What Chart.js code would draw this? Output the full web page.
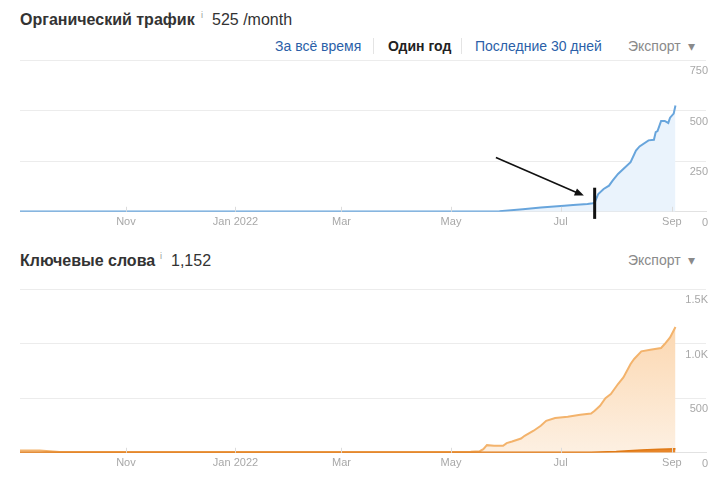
<!DOCTYPE html>
<html><head><meta charset="utf-8">
<script src="https://cdn.jsdelivr.net/npm/chart.js@4.4.0/dist/chart.umd.min.js"></script>
<style>
body{margin:0;width:720px;height:480px;background:#fff;font-family:"Liberation Sans",Arial,sans-serif;position:relative;overflow:hidden}
.abs{position:absolute;white-space:nowrap;line-height:1}
.title{font-weight:bold;font-size:16px;color:#333}
.info{font-size:9px;color:#999}
.val{font-size:16px;color:#333}
.btn{font-size:14px;color:#2b5fa8}
.btn.on{color:#222;font-weight:bold}
.exp{font-size:14px;color:#8a8a8a}
.sep{position:absolute;width:1px;background:#e4e4e4}
canvas{position:absolute;left:0}
</style></head>
<body>
<div class="abs title" style="left:20px;top:12px">Органический трафик</div>
<div class="abs info" style="left:201px;top:11px">i</div>
<div class="abs val" style="left:212px;top:12px">525 /month</div>
<div class="abs btn" style="left:275px;top:39px">За всё время</div>
<div class="sep" style="left:373px;top:38px;height:16px"></div>
<div class="abs btn on" style="left:388px;top:39px">Один год</div>
<div class="sep" style="left:461px;top:38px;height:16px"></div>
<div class="abs btn" style="left:475px;top:39px">Последние 30 дней</div>
<div class="abs exp" style="left:628px;top:39px">Экспорт&nbsp;&nbsp;▾</div>

<div class="abs title" style="left:20px;top:253px">Ключевые слова</div>
<div class="abs info" style="left:160px;top:252px">i</div>
<div class="abs val" style="left:171px;top:253px">1,152</div>
<div class="abs exp" style="left:628px;top:253px">Экспорт&nbsp;&nbsp;▾</div>

<canvas id="c1" style="top:50px"></canvas>
<canvas id="c2" style="top:279px"></canvas>
<script>
// ---------- data ----------
const START_DATE = '2021-09-03';
const AXIS_END_DATE = '2022-09-20';
const xTickDates = ['2021-11-01','2022-01-01','2022-03-01','2022-05-01','2022-07-01','2022-09-01'];
const xTickLabels = ['Nov','Jan 2022','Mar','May','Jul','Sep'];

const trafficDates = ['2021-09-03','2022-05-23','2022-05-28','2022-06-10','2022-06-20','2022-07-03','2022-07-08','2022-07-16','2022-07-19','2022-07-20','2022-07-22','2022-07-25','2022-07-28','2022-07-30','2022-08-02','2022-08-06','2022-08-09','2022-08-12','2022-08-14','2022-08-19','2022-08-22','2022-08-23','2022-08-24','2022-08-26','2022-08-28','2022-08-30','2022-08-31','2022-09-02','2022-09-03'];
const trafficValues = [1,2,3,13,21,30,33,38,42,45,88,113,129,154,187,220,245,303,323,353,356,394,399,449,449,439,465,485,525];
const trafficTicks = [0,250,500,750];

const kwDates = ['2021-09-03','2021-09-14','2021-09-25','2022-05-12','2022-05-17','2022-05-19','2022-05-21','2022-05-25','2022-05-30','2022-06-01','2022-06-04','2022-06-09','2022-06-11','2022-06-16','2022-06-20','2022-06-23','2022-06-28','2022-07-05','2022-07-12','2022-07-18','2022-07-20','2022-07-23','2022-07-26','2022-07-29','2022-08-02','2022-08-05','2022-08-09','2022-08-11','2022-08-15','2022-08-20','2022-08-26','2022-08-28','2022-08-31','2022-09-03'];
const kwValues = [22,20,8,10,15,34,70,64,64,89,104,131,156,202,247,293,318,330,348,360,385,431,501,538,630,690,813,859,929,944,960,996,1057,1152];
const kwTopDates = ['2021-09-03','2022-07-18','2022-08-01','2022-08-15','2022-08-25','2022-09-03'];
const kwTopValues = [4,5,12,25,33,38];
const kwTicks = [0,500,1000,1500];
const kwTickLabels = ['0','500','1.0K','1.5K'];

// annotation drawn on the screenshot (date, value)
const arrowFrom = ['2022-05-26', 268];
const arrowTo = ['2022-07-14', 80];
const markerDate = '2022-07-20';
const markerRange = [119, -35];

// ---------- helpers ----------
const day = d => (Date.parse(d) - Date.parse(START_DATE)) / 86400000;
const pts = (ds, vs) => ds.map((d, i) => ({x: day(d), y: vs[i]}));

function makeCanvas(id, h) {
  const c = document.getElementById(id);
  c.width = 720; c.height = h;
  c.style.width = '720px'; c.style.height = h + 'px';
  return c;
}

const tickFont = {family: '"Liberation Sans", Arial, sans-serif', size: 11};

function xScale() {
  return {
    type: 'linear', min: 0, max: day(AXIS_END_DATE),
    afterBuildTicks: s => { s.ticks = xTickDates.map(d => ({value: day(d)})); },
    ticks: {callback: (v, i) => xTickLabels[i], autoSkip: false, maxRotation: 0, color: '#a8a8a8', font: tickFont, padding: 4},
    grid: {display: false, drawTicks: false},
    border: {display: true, color: '#e2e2e2'}
  };
}
function yScale(max, ticks, labels) {
  return {
    position: 'right', min: 0, max: max,
    afterBuildTicks: s => { s.ticks = ticks.map(v => ({value: v})); },
    ticks: {mirror: true, labelOffset: 11, padding: 2, color: '#a8a8a8', font: tickFont,
      callback: (v, i) => labels ? labels[i] : String(v)},
    grid: {color: '#ececec', drawTicks: false},
    border: {display: false}
  };
}
const monthTicks = {
  id: 'monthTicks',
  afterDatasetsDraw(chart) {
    const ctx = chart.ctx, s = chart.scales.x, b = chart.chartArea.bottom;
    ctx.save(); ctx.strokeStyle = '#dcdcdc'; ctx.lineWidth = 1;
    s.ticks.forEach(t => {
      const x = Math.round(s.getPixelForValue(t.value)) + 0.5;
      ctx.beginPath(); ctx.moveTo(x, b - 5); ctx.lineTo(x, b); ctx.stroke();
    });
    ctx.restore();
  }
};
const annotation = {
  id: 'annotation',
  afterDraw(chart) {
    const ctx = chart.ctx, sx = chart.scales.x, sy = chart.scales.y;
    const x1 = sx.getPixelForValue(day(arrowFrom[0])), y1 = sy.getPixelForValue(arrowFrom[1]);
    const x2 = sx.getPixelForValue(day(arrowTo[0])), y2 = sy.getPixelForValue(arrowTo[1]);
    ctx.save();
    ctx.strokeStyle = '#111'; ctx.fillStyle = '#111'; ctx.lineWidth = 1.6;
    const ang = Math.atan2(y2 - y1, x2 - x1);
    const hx = x2 - 8 * Math.cos(ang), hy = y2 - 8 * Math.sin(ang);
    ctx.beginPath(); ctx.moveTo(x1, y1); ctx.lineTo(hx, hy); ctx.stroke();
    ctx.beginPath(); ctx.moveTo(x2, y2);
    ctx.lineTo(x2 - 10 * Math.cos(ang - 0.4), y2 - 10 * Math.sin(ang - 0.4));
    ctx.lineTo(x2 - 10 * Math.cos(ang + 0.4), y2 - 10 * Math.sin(ang + 0.4));
    ctx.closePath(); ctx.fill();
    const mx = sx.getPixelForValue(day(markerDate));
    ctx.lineWidth = 3;
    ctx.beginPath(); ctx.moveTo(mx, sy.getPixelForValue(markerRange[0])); ctx.lineTo(mx, sy.getPixelForValue(markerRange[1])); ctx.stroke();
    ctx.restore();
  }
};

const common = {
  responsive: false, animation: false,
  elements: {point: {radius: 0}, line: {tension: 0}},
  plugins: {legend: {display: false}, tooltip: {enabled: false}}
};

// ---------- traffic chart ----------
new Chart(makeCanvas('c1', 185), {
  type: 'line',
  data: {datasets: [{
    data: pts(trafficDates, trafficValues),
    borderColor: '#68a5dc', borderWidth: 2,
    backgroundColor: '#eaf3fc', fill: 'origin'
  }]},
  options: Object.assign({}, common, {
    layout: {padding: {left: 20, right: 10, top: 10, bottom: 2}},
    scales: {x: xScale(), y: yScale(750, trafficTicks, null)}
  }),
  plugins: [monthTicks, annotation]
});

// ---------- keywords chart ----------
function orangeGrad(ctx) {
  const a = ctx.chart.chartArea;
  if (!a) return '#fde3c6';
  const g = ctx.chart.ctx.createLinearGradient(0, a.top, 0, a.bottom);
  g.addColorStop(0, '#fbd0a2');
  g.addColorStop(1, '#fdf0e2');
  return g;
}
new Chart(makeCanvas('c2', 197), {
  type: 'line',
  data: {datasets: [
    {data: pts(kwTopDates, kwTopValues), borderColor: '#e07a16', borderWidth: 1.5, backgroundColor: '#e8862a', fill: 'origin'},
    {data: pts(kwDates, kwValues), borderColor: '#f3b36c', borderWidth: 2, backgroundColor: orangeGrad, fill: 'origin'}
  ]},
  options: Object.assign({}, common, {
    layout: {padding: {left: 20, right: 10, top: 10, bottom: 2}},
    scales: {x: xScale(), y: yScale(1500, kwTicks, kwTickLabels)}
  }),
  plugins: [monthTicks]
});
</script>
</body></html>
